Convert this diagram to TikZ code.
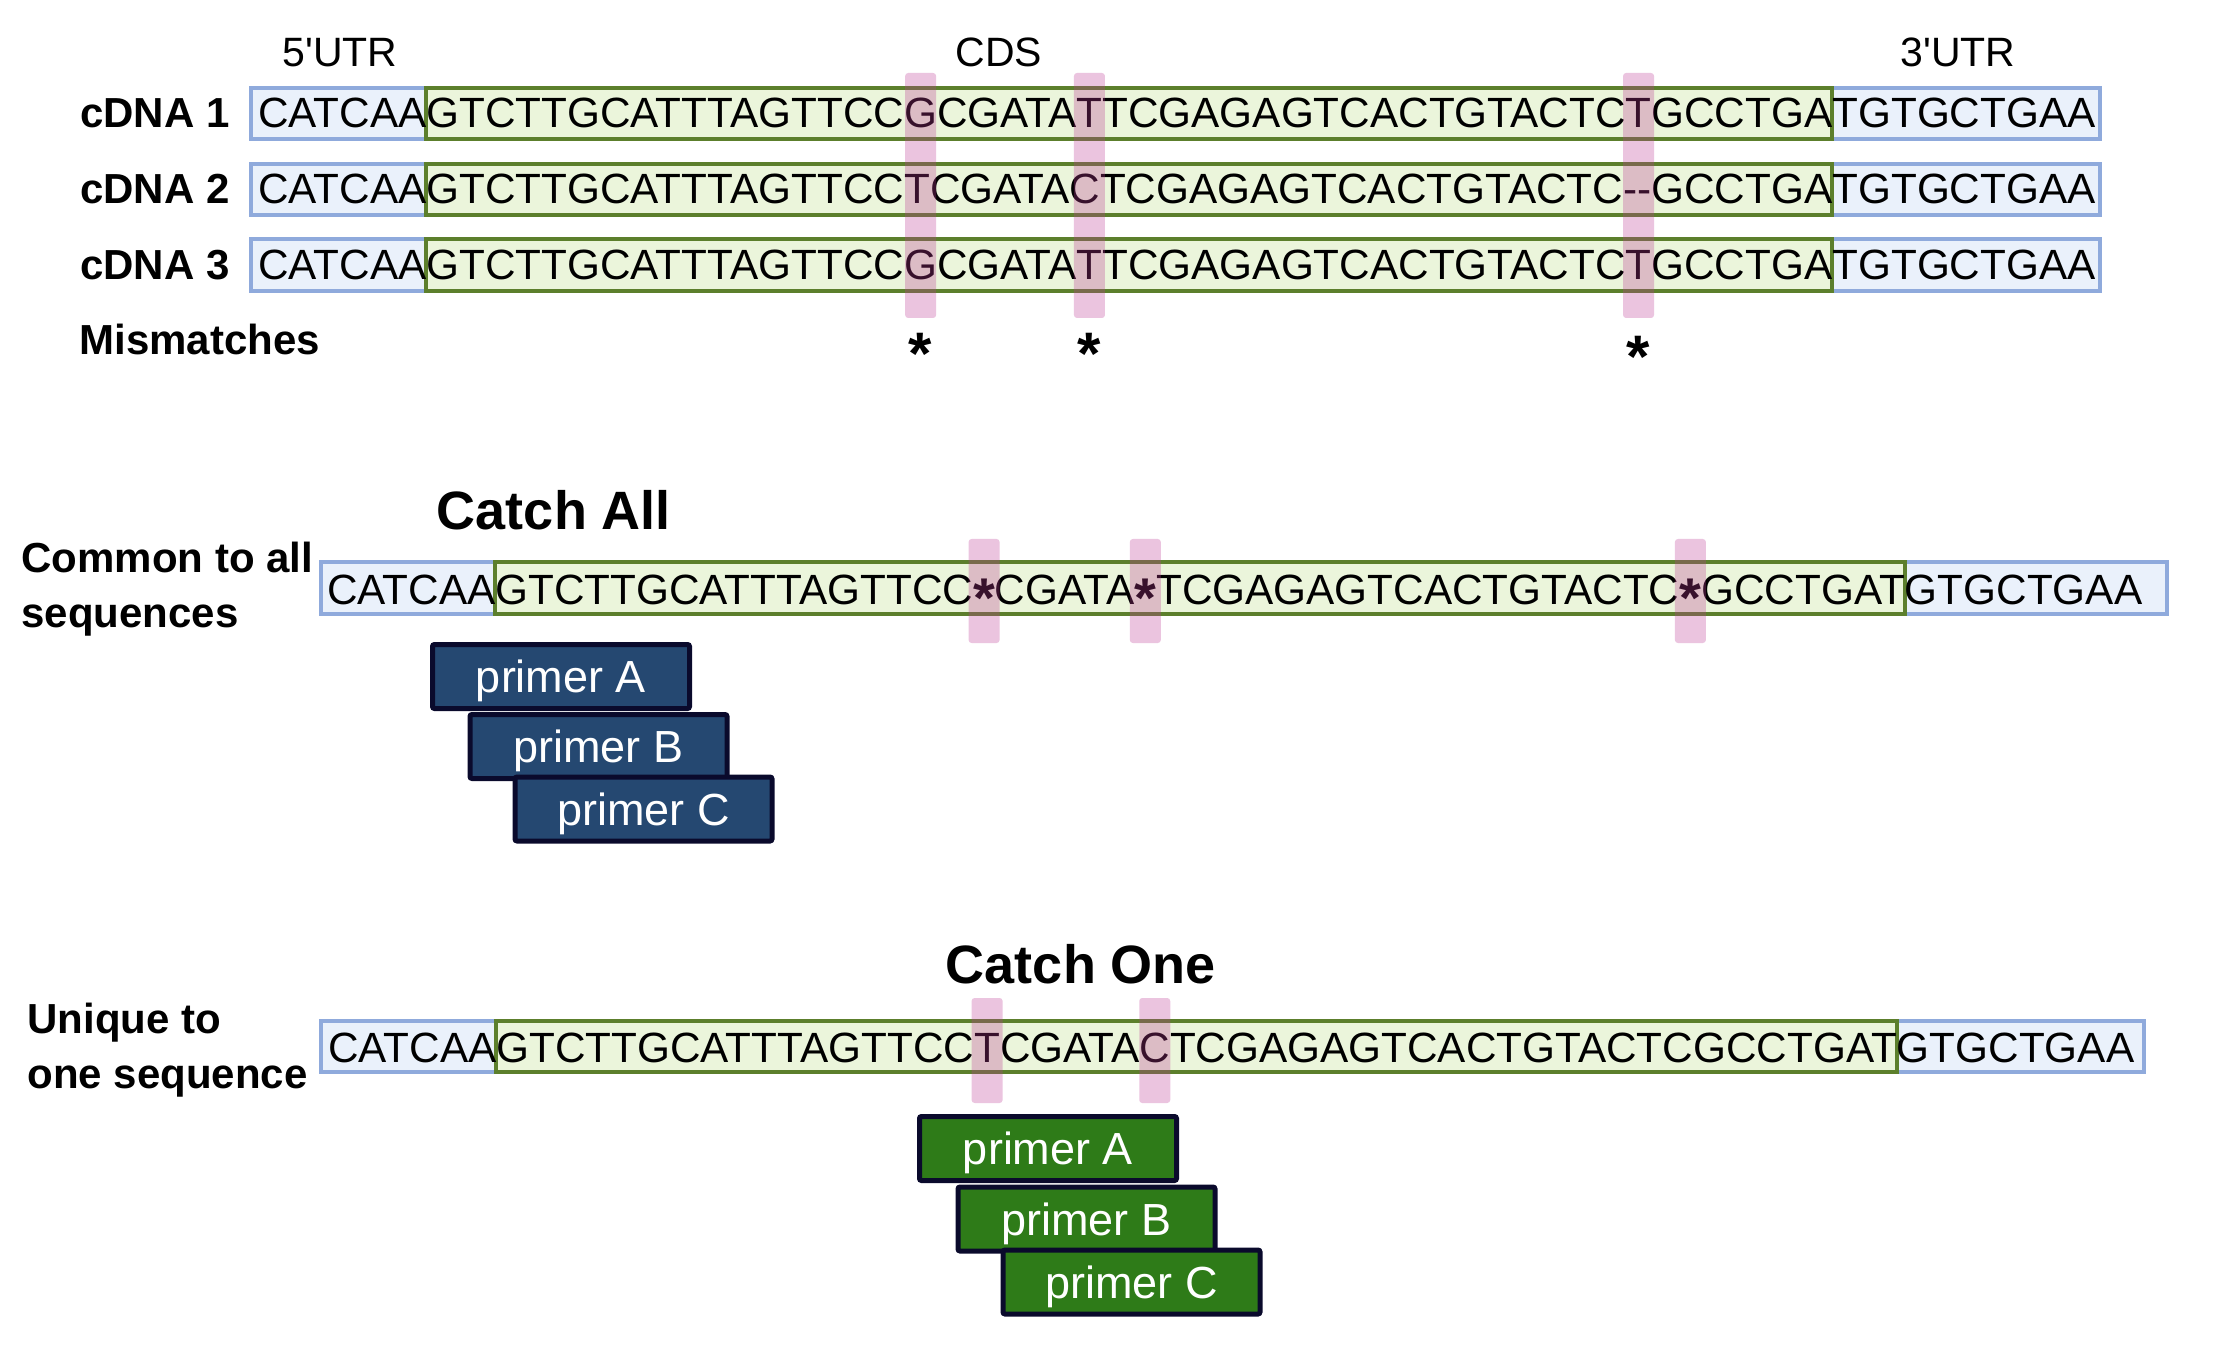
\documentclass[tikz,border=0pt]{standalone}
\usepackage{fontspec}
\newfontfamily\seqf{Liberation Sans}
\newfontfamily\labf{Liberation Sans Bold}
\usetikzlibrary{backgrounds}
\definecolor{bluefill}{HTML}{EAF1FB}
\definecolor{blueline}{HTML}{8FAADC}
\definecolor{greenfill}{HTML}{EBF5DB}
\definecolor{greenline}{HTML}{5C7F2C}
\definecolor{pinkc}{HTML}{BC3A94}
\definecolor{cPrimBlue}{HTML}{254871}
\definecolor{cPrimGreen}{HTML}{2E7B18}
\definecolor{cPrimLine}{HTML}{0A0A2C}
\tikzset{
  seq/.style={font=\seqf\fontsize{21.15pt}{25pt}\selectfont, inner sep=0pt, outer sep=0pt, anchor=base west},
  lab/.style={font=\labf\fontsize{21pt}{25pt}\selectfont, inner sep=0pt},
  hdr/.style={font=\seqf\fontsize{20.5pt}{25pt}\selectfont, inner sep=0pt, anchor=base},
  ttl/.style={font=\labf\fontsize{27pt}{32pt}\selectfont, inner sep=0pt, anchor=base},
  astx/.style={font=\labf\fontsize{30pt}{30pt}\selectfont, inner sep=0pt, anchor=base},
  bluebox/.style={draw=blueline, fill=bluefill, line width=2pt},
  greenbox/.style={draw=greenline, fill=greenfill, line width=2pt},
  pinkcol/.style={fill=pinkc, fill opacity=0.3, rounded corners=1.5pt},
  primer/.style={draw=cPrimLine, line width=2.5pt, rounded corners=1pt, text=white,
    font=\seqf\fontsize{22.5pt}{27pt}\selectfont, minimum width=128.5pt,
    minimum height=32pt, inner sep=0pt, text height=20pt, text depth=4pt},
}
\newcommand\bigast{\raisebox{-6.5pt}{\labf\fontsize{28pt}{28pt}\selectfont *}}
\newcommand\seqline[4]{%
  \foreach \t [count=\i, remember=\i as \j (initially 0)] in {#4} {%
    \ifnum\i=1
      \node[seq] (#1p\i) at (#2,#3) {\t};
    \else
      \node[seq] (#1p\i) at (#1p\j.base east) {\t};
    \fi}}
\begin{document}
\begin{tikzpicture}[x=0.5pt, y=-0.5pt]
\useasboundingbox (0,0) rectangle (2213,1353);

% ---------- top alignment ----------
\node[hdr] (utr5) at (340,67) {5'UTR};
\node[hdr] (cds) at (999,67) {CDS};
\node[hdr] (utr3) at (1958,67) {3'UTR};

\seqline{ra}{258}{128}{CATCAA,GTCTTGCATTTAGTTCC,G,CGATA,T,TCGAGAGTCACTGTACTC,T,GCCTGA,TGTGCTGAA}
\seqline{rb}{258}{204}{CATCAA,GTCTTGCATTTAGTTCC,T,CGATA,C,TCGAGAGTCACTGTACTC,--,GCCTGA,TGTGCTGAA}
\seqline{rc}{258}{280}{CATCAA,GTCTTGCATTTAGTTCC,G,CGATA,T,TCGAGAGTCACTGTACTC,T,GCCTGA,TGTGCTGAA}

\node[lab, anchor=base east] (cd1) at (230,128) {cDNA 1};
\node[lab, anchor=base east] (cd2) at (230,204) {cDNA 2};
\node[lab, anchor=base east] (cd3) at (230,280) {cDNA 3};
\node[lab, anchor=base west] (mism) at (79,355) {Mismatches};

\begin{scope}[on background layer]
  \foreach \rr/\tp/\bt in {ra/88/139, rb/164/215, rc/239/291} {
    \draw[bluebox] (251,\tp) rectangle (\rr p1.base east |- 0,\bt);
    \draw[bluebox] (\rr p8.base east |- 0,\tp) rectangle (2100,\bt);
    \draw[greenbox] (\rr p1.base east |- 0,\tp) rectangle (\rr p8.base east |- 0,\bt);
  }
\end{scope}

\foreach \n in {rap3,rap5,rap7}
  \fill[pinkcol] (\n.center |- 0,73) ++(-15.5,0) rectangle ++(31,245);

\node[astx] (ast1) at (rap3.center |- 0,375) {*};
\node[astx] (ast2) at (rap5.center |- 0,375) {*};
\node[astx] (ast3) at (rap7.center |- 0,378) {*};

% ---------- catch all ----------
\node[ttl] (catchall) at (554,530) {Catch All};
\node[lab, anchor=base west] (comm1) at (21,573) {Common to all};
\node[lab, anchor=base west] (comm2) at (21,627) {sequences};

\seqline{rm}{327}{604}{CATCAA,GTCTTGCATTTAGTTCC,\bigast,CGATA,\bigast,TCGAGAGTCACTGTACTC,\bigast,GCCTGAT,GTGCTGAA}
\begin{scope}[on background layer]
  \draw[bluebox] (321,562) rectangle (rmp1.base east |- 0,614);
  \draw[bluebox] (rmp8.base east |- 0,562) rectangle (2167,614);
  \draw[greenbox] (rmp1.base east |- 0,562) rectangle (rmp8.base east |- 0,614);
\end{scope}
\foreach \n in {rmp3,rmp5,rmp7}
  \fill[pinkcol] (\n.center |- 0,539) ++(-15.5,0) rectangle ++(31,104);

\node[primer, fill=cPrimBlue] (pa1) at (561,676.5) {primer A};
\node[primer, fill=cPrimBlue] (pb1) at (598.5,746.5) {primer B};
\node[primer, fill=cPrimBlue] (pc1) at (643.5,809) {primer C};

% ---------- catch one ----------
\node[ttl] (catchone) at (1081,983) {Catch One};
\node[lab, anchor=base west] (uniq1) at (27,1033) {Unique to};
\node[lab, anchor=base west] (uniq2) at (27,1088) {one sequence};

\seqline{ru}{328}{1062}{CATCAA,GTCTTGCATTTAGTTCC,T,CGATA,C,TCGAGAGTCACTGTACTCGCCTGAT,GTGCTGAA}
\begin{scope}[on background layer]
  \draw[bluebox] (321,1021) rectangle (rup1.base east |- 0,1072);
  \draw[bluebox] (rup6.base east |- 0,1021) rectangle (2144,1072);
  \draw[greenbox] (rup1.base east |- 0,1021) rectangle (rup6.base east |- 0,1072);
\end{scope}
\foreach \n in {rup3,rup5}
  \fill[pinkcol] (\n.center |- 0,998) ++(-15.5,0) rectangle ++(31,105);

\node[primer, fill=cPrimGreen] (pa2) at (1048,1148.5) {primer A};
\node[primer, fill=cPrimGreen] (pb2) at (1086.5,1219) {primer B};
\node[primer, fill=cPrimGreen] (pc2) at (1131.5,1282) {primer C};
\end{tikzpicture}
\end{document}
